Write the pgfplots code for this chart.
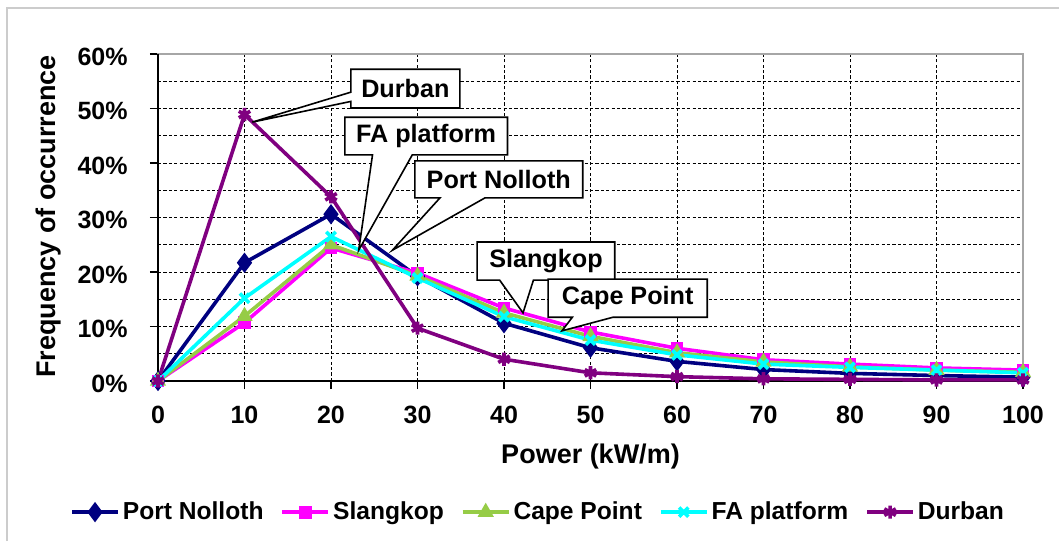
\documentclass[border=0pt]{standalone}
\usepackage{fontspec}
\setmainfont{Liberation Sans}
\usepackage{pgfplots}
\pgfplotsset{compat=1.18}
\definecolor{pnavy}{RGB}{0,0,128}
\definecolor{pmag}{RGB}{255,0,255}
\definecolor{pgreen}{RGB}{150,204,70}
\definecolor{pcyan}{RGB}{0,255,255}
\definecolor{ppurp}{RGB}{128,0,128}
\begin{document}
\begin{tikzpicture}
\useasboundingbox (0,0) rectangle (529.5pt,270.5pt);
\fill[white] (0,0) rectangle (529.5pt,270.5pt);
\draw[gray!40, line width=0.6pt] (3.5pt,0) -- (3.5pt,266.5pt) -- (529.5pt,266.5pt);
\begin{axis}[
  at={(79pt,80pt)}, anchor=south west,
  scale only axis, width=432.5pt, height=163.5pt,
  xmin=0, xmax=100, ymin=0, ymax=60,
  xtick={0,10,...,100}, ytick={0,10,...,60},
  minor ytick={5,15,...,55},
  tick pos=left, tick align=outside,
  major tick length=4pt, minor tick length=0pt,
  tick style={black, line width=0.6pt},
  grid=both,
  grid style={black, line width=0.5pt, dash pattern=on 1.6pt off 1.1pt},
  minor grid style={black, line width=0.5pt, dash pattern=on 1.6pt off 1.1pt},
  axis line style={gray!70, line width=0.6pt},
  /pgf/number format/assume math mode=true,
  ticklabel style={font=\bfseries\fontsize{12.5}{14}\selectfont},
  yticklabel={\pgfmathprintnumber{\tick}\%},
  yticklabel style={anchor=base east, xshift=-11pt, yshift=-5.5pt, inner sep=0pt},
  xticklabel style={anchor=base, yshift=-17pt, inner sep=0pt},
  xlabel={Power (kW/m)},
  ylabel={Frequency of occurrence},
  label style={font=\bfseries\fontsize{13.5}{16}\selectfont},
  xlabel style={at={(axis description cs:0.5,-0.232)}, anchor=center},
  ylabel style={at={(axis description cs:-0.126,0.503)}, anchor=center, rotate=0},
  legend columns=-1,
  legend style={at={(axis description cs:0.44,-0.401)}, anchor=center, draw=none, fill=none,
    font=\bfseries\fontsize{12.3}{14}\selectfont,
    nodes={inner xsep=1.5pt, inner ysep=1pt},
    /tikz/every even column/.append style={column sep=7pt}},
  legend image code/.code={\draw[mark repeat=2,mark phase=2,#1] plot coordinates {(0pt,0pt)(11.5pt,0pt)(23pt,0pt)};},
  clip=false,
]
\draw[black, line width=0.8pt] (rel axis cs:0,1) -- (rel axis cs:0,0) -- (rel axis cs:1,0);
\addplot[pnavy, line width=1.8pt, mark=diamond*, mark size=3.6pt] coordinates {
(0,0) (10,21.7) (20,30.6) (30,19.2) (40,10.6) (50,6.1) (60,3.6) (70,2.1) (80,1.4) (90,1.0) (100,0.7)};
\addlegendentry{Port Nolloth}
\addplot[pmag, line width=1.8pt, mark=square*, mark size=2.3pt] coordinates {
(0,0) (10,10.7) (20,24.4) (30,19.8) (40,13.4) (50,9.0) (60,6.0) (70,3.9) (80,3.1) (90,2.4) (100,2.0)};
\addlegendentry{Slangkop}
\addplot[pgreen, line width=1.8pt, mark=triangle*, mark size=2.9pt] coordinates {
(0,0) (10,11.9) (20,25.0) (30,19.3) (40,12.5) (50,8.2) (60,5.2) (70,3.5) (80,2.6) (90,2.0) (100,1.6)};
\addlegendentry{Cape Point}
\addplot[pcyan, line width=1.8pt, mark=x, mark size=3.3pt] coordinates {
(0,0) (10,15.2) (20,26.5) (30,18.9) (40,11.8) (50,7.5) (60,4.8) (70,3.1) (80,2.5) (90,2.0) (100,1.5)};
\addlegendentry{FA platform}
\addplot[ppurp, line width=1.8pt, mark=asterisk, mark size=3.3pt] coordinates {
(0,0) (10,48.9) (20,33.8) (30,9.7) (40,4.0) (50,1.5) (60,0.8) (70,0.4) (80,0.3) (90,0.2) (100,0.2)};
\addlegendentry{Durban}
% callouts
\tikzset{co/.style={draw=black, fill=white, line width=0.8pt, line join=miter}}
\tikzset{cot/.style={font=\bfseries\fontsize{12.6}{14}\selectfont, inner sep=0pt}}
\filldraw[co] (axis cs:22.3,57.2) -- (axis cs:34.9,57.2) -- (axis cs:34.9,50.1) -- (axis cs:22.3,50.1)
  -- (axis cs:22.3,51.3) -- (axis cs:10.9,47.5) -- (axis cs:22.3,53.0) -- cycle;
\node[cot] at (axis cs:28.6,53.65) {Durban};
\filldraw[co] (axis cs:21.6,48.4) -- (axis cs:40.4,48.4) -- (axis cs:40.4,41.5) -- (axis cs:29.4,41.5)
  -- (axis cs:23.2,24.0) -- (axis cs:24.8,41.5) -- (axis cs:21.6,41.5) -- cycle;
\node[cot] at (axis cs:31.0,44.95) {FA platform};
\filldraw[co] (axis cs:29.7,40.4) -- (axis cs:49.1,40.4) -- (axis cs:49.1,33.6) -- (axis cs:37.8,33.6)
  -- (axis cs:27.1,24.0) -- (axis cs:32.6,33.6) -- (axis cs:29.7,33.6) -- cycle;
\node[cot] at (axis cs:39.4,37.0) {Port Nolloth};
\filldraw[co] (axis cs:36.9,25.5) -- (axis cs:52.8,25.5) -- (axis cs:52.8,18.5) -- (axis cs:43.4,18.5)
  -- (axis cs:42.2,12.5) -- (axis cs:39.5,18.5) -- (axis cs:36.9,18.5) -- cycle;
\node[cot] at (axis cs:44.85,22.0) {Slangkop};
\filldraw[co] (axis cs:45.1,18.7) -- (axis cs:63.5,18.7) -- (axis cs:63.5,11.7) -- (axis cs:52.6,11.7)
  -- (axis cs:46.7,9.2) -- (axis cs:47.9,11.7) -- (axis cs:45.1,11.7) -- cycle;
\node[cot] at (axis cs:54.3,15.2) {Cape Point};
\end{axis}
\end{tikzpicture}
\end{document}
